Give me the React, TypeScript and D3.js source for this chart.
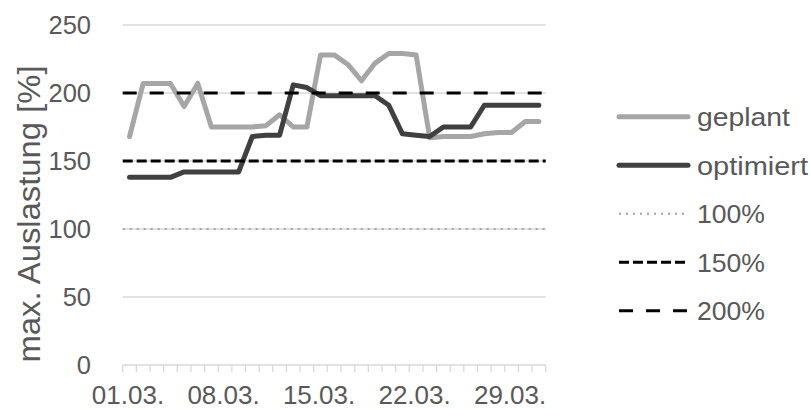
import React from "react";
import * as d3 from "d3";

const days: string[] = d3.range(1, 32).map((d) => (d < 10 ? "0" + d : "" + d) + ".03.");
const tickLabelDays: string[] = ["01.03.", "08.03.", "15.03.", "22.03.", "29.03."];
const geplant: number[] = [168, 207, 207, 207, 190, 207, 175, 175, 175, 175, 176, 184, 175, 175, 228, 228, 221, 209, 222, 229, 229, 228, 167, 168, 168, 168, 170, 171, 171, 179, 179];
const optimiert: number[] = [138, 138, 138, 138, 142, 142, 142, 142, 142, 168, 169, 169, 206, 204, 198, 198, 198, 198, 198, 191, 170, 169, 168, 175, 175, 175, 191, 191, 191, 191, 191];
const yTicks: number[] = [0, 50, 100, 150, 200, 250];
const refLevels: number[] = [100, 150, 200];
const legendLabels: string[] = ["geplant", "optimiert", "100%", "150%", "200%"];

const W = 810;
const H = 410;
const FONT = "'Liberation Sans', Arial, sans-serif";
const TEXT = "#595959";

const styles = [
  { stroke: "#a6a6a6", width: 5, dash: "none", cap: "round", textW: 93 },
  { stroke: "#404040", width: 5, dash: "none", cap: "round", textW: 111 },
  { stroke: "#a6a6a6", width: 2, dash: "2 5", cap: "butt", textW: 68 },
  { stroke: "#000000", width: 3, dash: "10 4", cap: "butt", textW: 68 },
  { stroke: "#000000", width: 3, dash: "14 13", cap: "butt", textW: 68 },
];

export default function App() {
  const x = d3.scaleBand<string>().domain(days).range([122.7, 545.7]).padding(0);
  const y = d3.scaleLinear().domain([0, 250]).range([365, 25]);
  const cx = (d: string) => (x(d) as number) + x.bandwidth() / 2;
  const line = d3
    .line<number>()
    .x((_, i) => cx(days[i]))
    .y((v) => y(v));
  const [x0, x1] = x.range();
  const boundaries = d3.range(days.length + 1).map((i) => x0 + i * x.bandwidth());

  return (
    <div style={{ position: "absolute", left: 0, top: 0 }}>
      <svg width={W} height={H} style={{ display: "block", background: "#fff" }} fontFamily={FONT}>
        {yTicks.map((t) => (
          <g key={t}>
            <line x1={x0} x2={x1} y1={y(t)} y2={y(t)} stroke="#d9d9d9" strokeWidth={1.3} />
            <text x={91} y={y(t)} dy="0.36em" textAnchor="end" fontSize={25.5} fill={TEXT}>
              {t}
            </text>
          </g>
        ))}
        {boundaries.map((b, i) => (
          <line key={i} x1={b} x2={b} y1={y(0)} y2={y(0) + 7} stroke="#d9d9d9" strokeWidth={1.3} />
        ))}
        {tickLabelDays.map((d) => (
          <text key={d} x={cx(d) - 1.5} y={404} textAnchor="middle" fontSize={26} fill={TEXT}>
            {d}
          </text>
        ))}
        <text
          transform={`translate(40,214) rotate(-90)`}
          textAnchor="middle"
          fontSize={32}
          fill={TEXT}
          textLength={297}
          lengthAdjust="spacingAndGlyphs"
        >
          max. Auslastung [%]
        </text>
        <path d={line(geplant) || ""} fill="none" stroke={styles[0].stroke} strokeWidth={styles[0].width} strokeLinejoin="round" strokeLinecap="round" />
        <path d={line(optimiert) || ""} fill="none" stroke={styles[1].stroke} strokeWidth={styles[1].width} strokeLinejoin="round" strokeLinecap="round" />
        {refLevels.map((lv, i) => {
          const s = styles[i + 2];
          return (
            <line key={lv} x1={x0} x2={x1} y1={y(lv)} y2={y(lv)} stroke={s.stroke} strokeWidth={s.width} strokeDasharray={s.dash} />
          );
        })}
        {legendLabels.map((lab, i) => {
          const s = styles[i];
          const ly = 116.7 + i * 48.5;
          return (
            <g key={lab}>
              <line x1={619} x2={688} y1={ly} y2={ly} stroke={s.stroke} strokeWidth={s.width} strokeDasharray={s.dash} strokeLinecap={s.cap as any} />
              <text x={697} y={ly} dy="0.36em" fontSize={26} fill={TEXT} textLength={s.textW} lengthAdjust="spacingAndGlyphs">
                {lab}
              </text>
            </g>
          );
        })}
      </svg>
    </div>
  );
}
